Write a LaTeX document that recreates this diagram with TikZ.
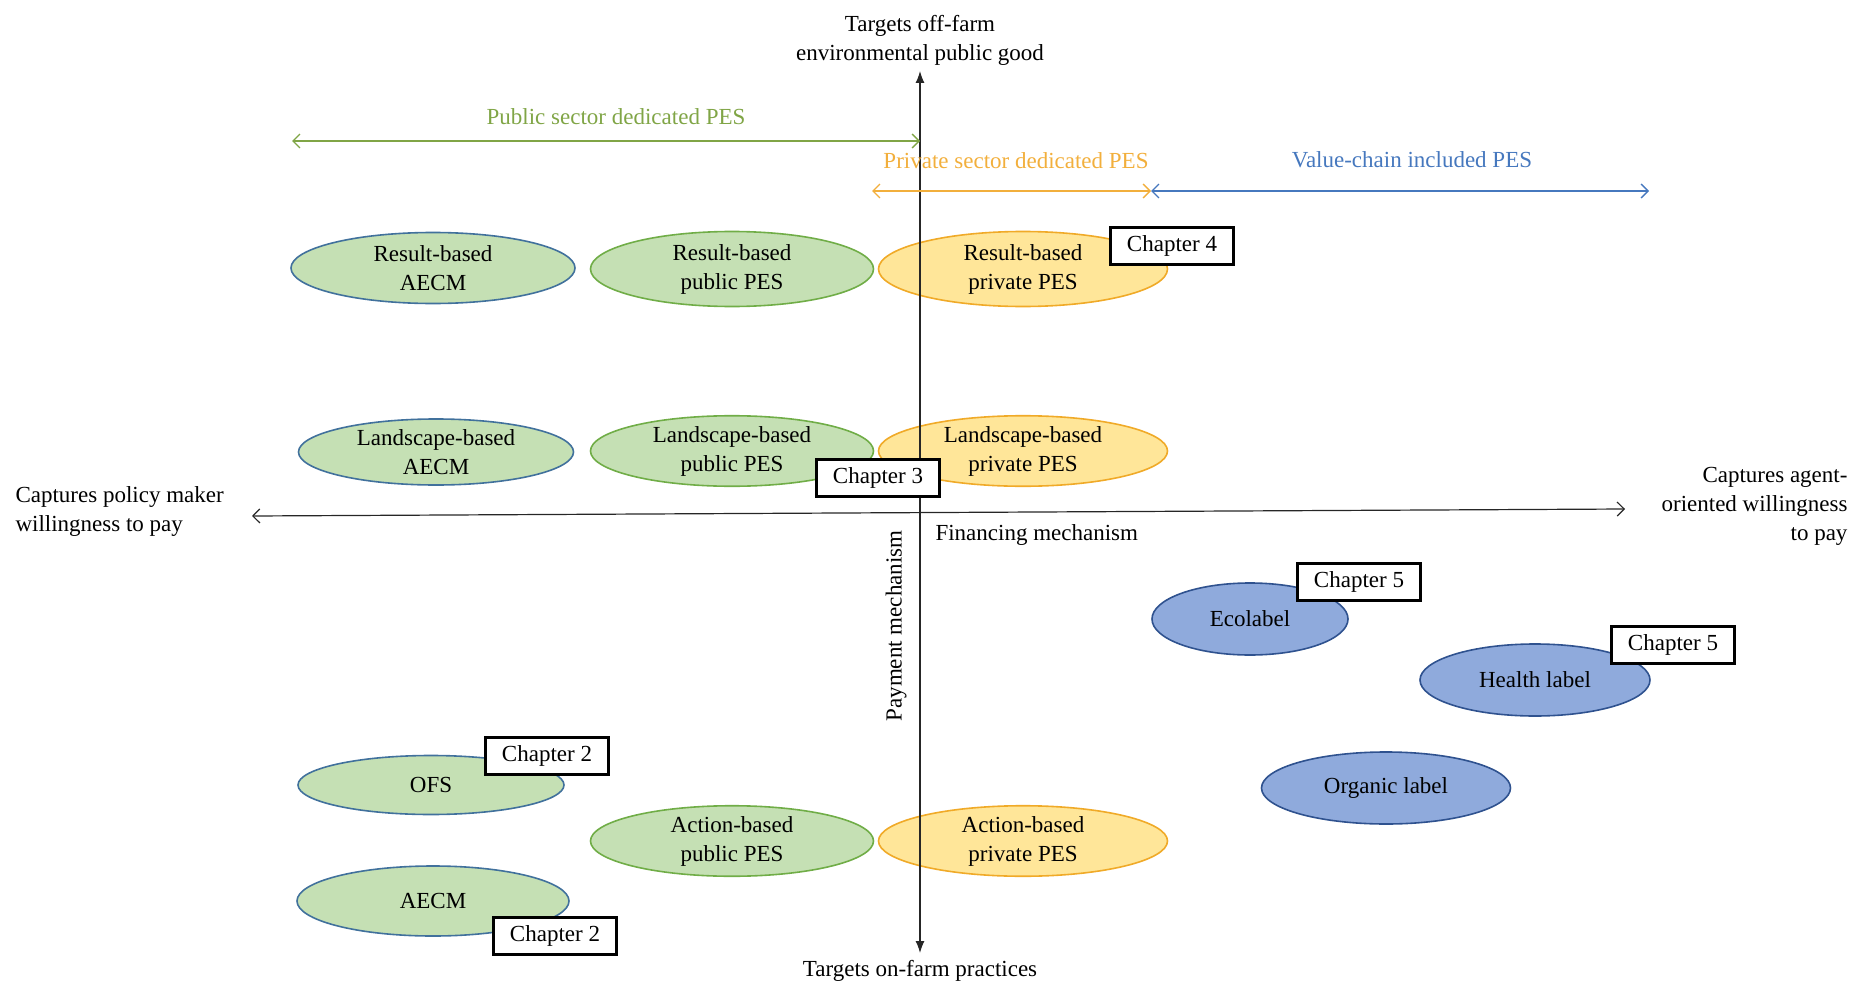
\documentclass[tikz,border=0pt]{standalone}
\usepackage{fontspec}
\setmainfont{Liberation Serif}
\usepackage{xcolor}
\usepackage{tikz}
\usetikzlibrary{shapes.geometric, arrows.meta, positioning}

\definecolor{greenfill}{RGB}{197,224,180}
\definecolor{greenline}{RGB}{112,173,71}
\definecolor{aecmline}{RGB}{65,113,156}
\definecolor{goldfill}{RGB}{255,230,153}
\definecolor{goldline}{RGB}{240,170,40}
\definecolor{bluefill}{RGB}{143,170,220}
\definecolor{blueline}{RGB}{47,82,143}
\definecolor{publictext}{RGB}{128,165,70}
\definecolor{privatetext}{RGB}{242,175,60}
\definecolor{chaintext}{RGB}{70,120,190}

\newcommand{\figfont}{\fontsize{23}{29}\selectfont}

\begin{document}
\begin{tikzpicture}[
    x=1pt, y=-1pt,
    every node/.style={font=\figfont},
    pes/.style={ellipse, line width=1.6pt, inner sep=0pt, align=center, minimum width=283pt, minimum height=64pt},
    aecm/.style={pes, draw=aecmline, fill=greenfill},
    publicpes/.style={pes, draw=greenline, fill=greenfill},
    privatepes/.style={pes, draw=goldline, fill=goldfill, minimum width=289pt},
    ecolab/.style={pes, draw=blueline, fill=bluefill, minimum height=72pt},
    chapbox/.style={rectangle, draw=black, fill=white, line width=2.2pt, minimum width=123pt, minimum height=37pt, inner sep=2pt},
    axis/.style={line width=1.2pt, black!85},
    span/.style={line width=1.3pt, {Straight Barb[length=7pt, width=14pt]}-{Straight Barb[length=7pt, width=14pt]}}
]
    \useasboundingbox (0,0) rectangle (1856,990);

    % Public schemes
    \node[aecm, minimum width=284pt, minimum height=71pt] (resaecm) at (433,268) {Result-based\\AECM};
    \node[publicpes, minimum height=75pt] (respub) at (732,269) {Result-based\\public PES};
    \node[aecm, minimum width=275pt, minimum height=66pt] (landaecm) at (436,452) {Landscape-based\\AECM};
    \node[publicpes] (landpub) at (732,451) {Landscape-based\\public PES};
    \node[aecm, minimum width=266pt, minimum height=59pt] (ofs) at (431,785) {OFS};
    \node[publicpes] (actpub) at (732,841) {Action-based\\public PES};
    \node[aecm, minimum width=272pt, minimum height=70pt] (aecm) at (433,901) {AECM};

    % Private schemes
    \node[privatepes, minimum height=75pt] (respriv) at (1023,269) {Result-based\\private PES};
    \node[privatepes] (landpriv) at (1023,451) {Landscape-based\\private PES};
    \node[privatepes] (actpriv) at (1023,841) {Action-based\\private PES};

    % Labels
    \node[ecolab, minimum width=196pt] (eco) at (1250,619) {Ecolabel};
    \node[ecolab, minimum width=230pt] (health) at (1535,680) {Health label};
    \node[ecolab, minimum width=249pt] (organic) at (1386,788) {Organic label};

    % Axes
    \coordinate (top) at (920,71);
    \coordinate (bottom) at (920,953);
    \coordinate (left) at (252,516);
    \coordinate (right) at (1625,509);
    \draw[axis, {Latex[length=12pt, width=9pt]}-{Latex[length=12pt, width=9pt]}] (bottom) -- (top);
    \draw[axis, {Straight Barb[length=7pt, width=14pt]}-{Straight Barb[length=7pt, width=14pt]}] (left) -- (right);

    \node[align=center, above=2pt of top] (offfarm) {Targets off-farm\\environmental public good};
    \node[below=4pt of bottom] (onfarm) {Targets on-farm practices};
    \node[align=left, anchor=west] (policy) at (12,511) {Captures policy maker\\willingness to pay};
    \node[align=right, anchor=east] (agent) at (1851,506) {Captures agent-\\oriented willingness\\to pay};
    \node[anchor=west] (finance) at (932,535) {Financing mechanism};
    \node[rotate=90] (payment) at (896,626) {Payment mechanism};

    % Sector spans
    \coordinate (pubA) at (292,141);
    \coordinate (pubB) at (920,141);
    \coordinate (privA) at (872,191);
    \coordinate (privB) at (1151,191);
    \coordinate (chainB) at (1649,191);
    \draw[span, publictext] (pubA) -- (pubB);
    \draw[span, privatetext] (privA) -- (privB);
    \draw[span, chaintext] (privB) -- (chainB);
    \node[text=publictext] (publab) at (616,117) {Public sector dedicated PES};
    \node[text=privatetext] (privlab) at (1016,161) {Private sector dedicated PES};
    \node[text=chaintext] (chainlab) at (1412,160) {Value-chain included PES};

    % Chapters
    \node[chapbox] (ch4) at (1172,246) {Chapter 4};
    \node[chapbox] (ch3) at (878,478) {Chapter 3};
    \node[chapbox] (ch5a) at (1359,582) {Chapter 5};
    \node[chapbox] (ch5b) at (1673,645) {Chapter 5};
    \node[chapbox] (ch2a) at (547,756) {Chapter 2};
    \node[chapbox] (ch2b) at (555,936) {Chapter 2};
\end{tikzpicture}
\end{document}
